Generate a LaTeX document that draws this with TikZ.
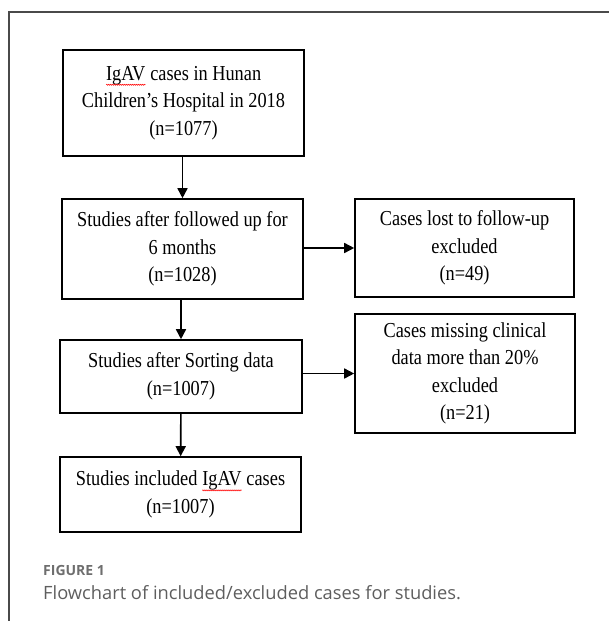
\documentclass[tikz,border=0pt]{standalone}
\usepackage{fontspec}
\setmainfont{Liberation Serif}[FakeStretch=0.86]
\newfontfamily\capfont{Open Sans}
\usepackage{xcolor}
\usetikzlibrary{arrows.meta, decorations.pathmorphing}
\definecolor{framegray}{HTML}{4A4A4A}
\definecolor{labelgray}{HTML}{6E6E6E}
\definecolor{captiongray}{HTML}{5E5E5E}
\newcommand{\spellmark}[1]{\tikz[baseline=(word.base)]{\node[shape=rectangle, draw=none, inner sep=0pt, outer sep=0pt, minimum width=0pt, minimum height=0pt] (word) {#1};
  \draw[red, line width=0.5pt, decorate, decoration={snake, segment length=2pt, amplitude=0.6pt}] ([yshift=-4.5pt]word.base west) -- ([yshift=-4.5pt]word.base east);}}

\begin{document}
\begin{tikzpicture}[x=1pt, y=-1pt,
  box/.style={rectangle, draw=black, line width=1.6pt, inner sep=0pt, align=center, font=\fontsize{21.3}{27.5}\selectfont},
  arrow/.style={-{Triangle[length=10pt, width=10pt]}, line width=1.6pt}
]
  \useasboundingbox (0,0) rectangle (609,621);

  % Frame
  \draw[framegray, line width=1.3pt] (609,12) -- (9,12) -- (9,621);

  % Main column
  \node[box, minimum width=241pt, minimum height=106pt] (igav) at (183.5,103) {\spellmark{IgAV} cases in Hunan\\Children's Hospital in 2018\\(n=1077)};
  \node[box, minimum width=241pt, minimum height=100pt] (followup) at (182.5,249) {Studies after followed up for\\6 months\\(n=1028)};
  \node[box, minimum width=242pt, minimum height=73pt] (sorting) at (181,376.5) {Studies after Sorting data\\(n=1007)};
  \node[box, minimum width=241pt, minimum height=75pt] (included) at (180.5,494.5) {Studies included \spellmark{IgAV} cases\\(n=1007)};

  % Excluded
  \node[box, minimum width=219pt, minimum height=98pt] (lostfu) at (464.5,248) {Cases lost to follow-up\\excluded\\(n=49)};
  \node[box, minimum width=220pt, minimum height=119pt] (missing) at (465,373.5) {Cases missing clinical\\data more than 20\%\\excluded\\(n=21)};

  \draw[arrow] (igav.south -| followup) -- (followup);
  \draw[arrow] (followup.south -| sorting) -- (sorting);
  \draw[arrow] (sorting) -- (included);
  \draw[arrow] (followup.east |- lostfu) -- (lostfu);
  \draw[arrow] (sorting.east |- missing) -- (missing);

  % Caption
  \node[anchor=base west, inner sep=0pt, text=labelgray, font=\capfont\bfseries\fontsize{14}{16}\selectfont] (figlabel) at (43,575) {FIGURE 1};
  \node[anchor=base west, inner sep=0pt, text=captiongray, font=\capfont\fontsize{18.3}{20}\selectfont] (figcaption) at (43,599) {Flowchart of included/excluded cases for studies.};
\end{tikzpicture}
\end{document}
